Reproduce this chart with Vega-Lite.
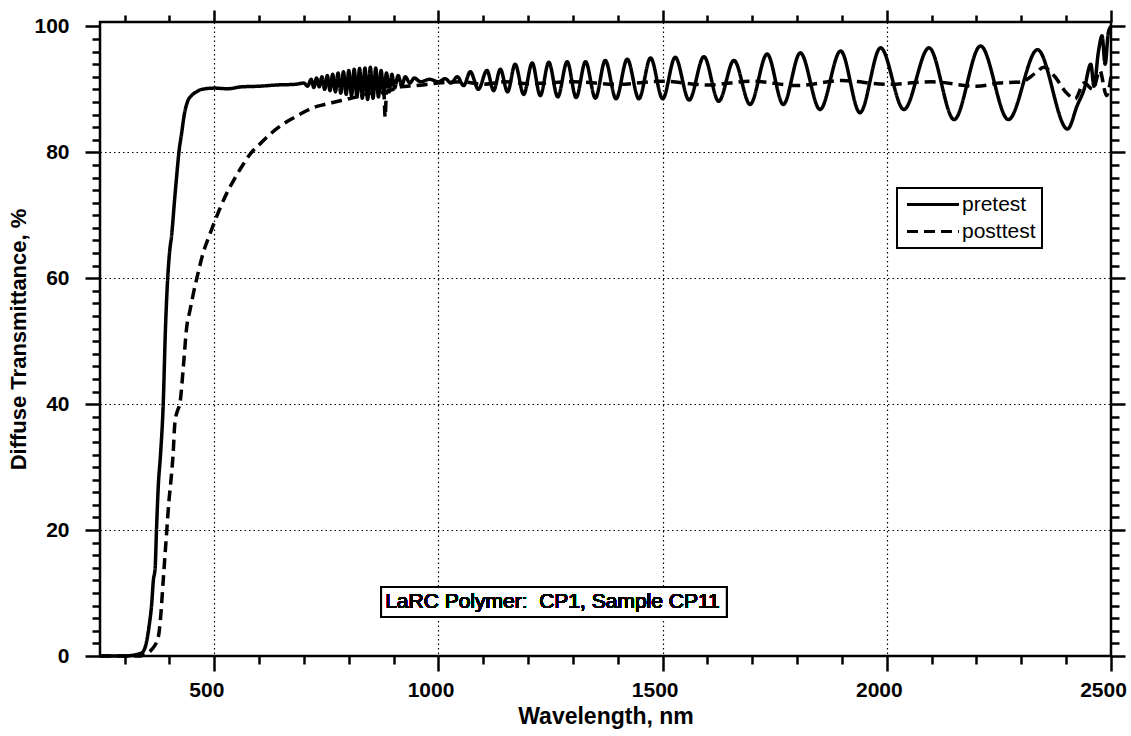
{
  "$schema": "https://vega.github.io/schema/vega-lite/v6.json",
  "width": 1011,
  "height": 634,
  "padding": {"left": 7, "top": 8, "right": 5, "bottom": 5},
  "background": "white",
  "config": {
    "view": {"stroke": "black", "strokeWidth": 2.5},
    "font": "Liberation Sans",
    "axis": {
      "labelFont": "Liberation Sans",
      "labelFontWeight": "bold",
      "labelFontSize": 21,
      "labelColor": "black",
      "titleFont": "Liberation Sans",
      "titleFontWeight": "bold",
      "titleFontSize": 22,
      "titleColor": "black",
      "tickColor": "black",
      "tickWidth": 2.5,
      "domain": false,
      "gridColor": "black",
      "gridDash": [1.5, 3],
      "gridWidth": 1.2,
      "labelOverlap": false,
      "labelFlush": false
    }
  },
  "data": {
    "values": [
      {"wavelength": 245, "transmittance": 0, "series": "pretest"},
      {"wavelength": 300, "transmittance": 0, "series": "pretest"},
      {"wavelength": 330, "transmittance": 0.3, "series": "pretest"},
      {"wavelength": 340, "transmittance": 0.6, "series": "pretest"},
      {"wavelength": 348, "transmittance": 2, "series": "pretest"},
      {"wavelength": 355, "transmittance": 5, "series": "pretest"},
      {"wavelength": 360, "transmittance": 8, "series": "pretest"},
      {"wavelength": 364, "transmittance": 12, "series": "pretest"},
      {"wavelength": 368, "transmittance": 14, "series": "pretest"},
      {"wavelength": 371, "transmittance": 20, "series": "pretest"},
      {"wavelength": 375, "transmittance": 27, "series": "pretest"},
      {"wavelength": 380, "transmittance": 32, "series": "pretest"},
      {"wavelength": 386, "transmittance": 40, "series": "pretest"},
      {"wavelength": 391, "transmittance": 52, "series": "pretest"},
      {"wavelength": 396, "transmittance": 60, "series": "pretest"},
      {"wavelength": 400, "transmittance": 64, "series": "pretest"},
      {"wavelength": 405, "transmittance": 67, "series": "pretest"},
      {"wavelength": 412, "transmittance": 73, "series": "pretest"},
      {"wavelength": 417, "transmittance": 77, "series": "pretest"},
      {"wavelength": 421, "transmittance": 80, "series": "pretest"},
      {"wavelength": 427, "transmittance": 83, "series": "pretest"},
      {"wavelength": 433, "transmittance": 86, "series": "pretest"},
      {"wavelength": 440, "transmittance": 88, "series": "pretest"},
      {"wavelength": 449, "transmittance": 89, "series": "pretest"},
      {"wavelength": 460, "transmittance": 89.6, "series": "pretest"},
      {"wavelength": 472, "transmittance": 90, "series": "pretest"},
      {"wavelength": 500, "transmittance": 90.2, "series": "pretest"},
      {"wavelength": 530, "transmittance": 90.1, "series": "pretest"},
      {"wavelength": 560, "transmittance": 90.4, "series": "pretest"},
      {"wavelength": 600, "transmittance": 90.5, "series": "pretest"},
      {"wavelength": 640, "transmittance": 90.7, "series": "pretest"},
      {"wavelength": 680, "transmittance": 90.8, "series": "pretest"},
      {"wavelength": 700, "transmittance": 91, "series": "pretest"},
      {"wavelength": 708, "transmittance": 90.5, "series": "pretest"},
      {"wavelength": 716, "transmittance": 91.6, "series": "pretest"},
      {"wavelength": 722, "transmittance": 90.3, "series": "pretest"},
      {"wavelength": 728, "transmittance": 91.8, "series": "pretest"},
      {"wavelength": 734, "transmittance": 90.4, "series": "pretest"},
      {"wavelength": 740, "transmittance": 92, "series": "pretest"},
      {"wavelength": 746, "transmittance": 90, "series": "pretest"},
      {"wavelength": 752, "transmittance": 92.2, "series": "pretest"},
      {"wavelength": 758, "transmittance": 89.8, "series": "pretest"},
      {"wavelength": 764, "transmittance": 92.4, "series": "pretest"},
      {"wavelength": 770, "transmittance": 89.6, "series": "pretest"},
      {"wavelength": 776, "transmittance": 92.6, "series": "pretest"},
      {"wavelength": 782, "transmittance": 89.4, "series": "pretest"},
      {"wavelength": 788, "transmittance": 92.8, "series": "pretest"},
      {"wavelength": 794, "transmittance": 89.2, "series": "pretest"},
      {"wavelength": 800, "transmittance": 93, "series": "pretest"},
      {"wavelength": 806, "transmittance": 89, "series": "pretest"},
      {"wavelength": 812, "transmittance": 93.2, "series": "pretest"},
      {"wavelength": 818, "transmittance": 88.8, "series": "pretest"},
      {"wavelength": 824, "transmittance": 93.3, "series": "pretest"},
      {"wavelength": 830, "transmittance": 88.6, "series": "pretest"},
      {"wavelength": 836, "transmittance": 93.4, "series": "pretest"},
      {"wavelength": 842, "transmittance": 88.4, "series": "pretest"},
      {"wavelength": 848, "transmittance": 93.5, "series": "pretest"},
      {"wavelength": 854, "transmittance": 88.6, "series": "pretest"},
      {"wavelength": 860, "transmittance": 93.4, "series": "pretest"},
      {"wavelength": 866, "transmittance": 88.8, "series": "pretest"},
      {"wavelength": 872, "transmittance": 93, "series": "pretest"},
      {"wavelength": 878, "transmittance": 89.2, "series": "pretest"},
      {"wavelength": 884, "transmittance": 92.6, "series": "pretest"},
      {"wavelength": 890, "transmittance": 89.6, "series": "pretest"},
      {"wavelength": 896, "transmittance": 92.4, "series": "pretest"},
      {"wavelength": 902, "transmittance": 90.2, "series": "pretest"},
      {"wavelength": 910, "transmittance": 92.2, "series": "pretest"},
      {"wavelength": 918, "transmittance": 90.6, "series": "pretest"},
      {"wavelength": 926, "transmittance": 92, "series": "pretest"},
      {"wavelength": 936, "transmittance": 91, "series": "pretest"},
      {"wavelength": 946, "transmittance": 91.8, "series": "pretest"},
      {"wavelength": 960, "transmittance": 91.2, "series": "pretest"},
      {"wavelength": 980, "transmittance": 91.6, "series": "pretest"},
      {"wavelength": 1000, "transmittance": 91.2, "series": "pretest"},
      {"wavelength": 1015, "transmittance": 91.7, "series": "pretest"},
      {"wavelength": 1028, "transmittance": 91, "series": "pretest"},
      {"wavelength": 1042, "transmittance": 92, "series": "pretest"},
      {"wavelength": 1056, "transmittance": 90.6, "series": "pretest"},
      {"wavelength": 1071, "transmittance": 92.8, "series": "pretest"},
      {"wavelength": 1089, "transmittance": 90, "series": "pretest"},
      {"wavelength": 1108, "transmittance": 93, "series": "pretest"},
      {"wavelength": 1123, "transmittance": 89.8, "series": "pretest"},
      {"wavelength": 1138, "transmittance": 93.2, "series": "pretest"},
      {"wavelength": 1154, "transmittance": 89.6, "series": "pretest"},
      {"wavelength": 1171, "transmittance": 94, "series": "pretest"},
      {"wavelength": 1190, "transmittance": 89.2, "series": "pretest"},
      {"wavelength": 1209, "transmittance": 94.2, "series": "pretest"},
      {"wavelength": 1227, "transmittance": 89, "series": "pretest"},
      {"wavelength": 1246, "transmittance": 94.3, "series": "pretest"},
      {"wavelength": 1266, "transmittance": 88.8, "series": "pretest"},
      {"wavelength": 1287, "transmittance": 94.4, "series": "pretest"},
      {"wavelength": 1307, "transmittance": 88.7, "series": "pretest"},
      {"wavelength": 1328, "transmittance": 94.4, "series": "pretest"},
      {"wavelength": 1350, "transmittance": 88.6, "series": "pretest"},
      {"wavelength": 1372, "transmittance": 94.6, "series": "pretest"},
      {"wavelength": 1396, "transmittance": 88.5, "series": "pretest"},
      {"wavelength": 1421, "transmittance": 94.8, "series": "pretest"},
      {"wavelength": 1447, "transmittance": 88.5, "series": "pretest"},
      {"wavelength": 1473, "transmittance": 95, "series": "pretest"},
      {"wavelength": 1500, "transmittance": 88.5, "series": "pretest"},
      {"wavelength": 1528, "transmittance": 95.1, "series": "pretest"},
      {"wavelength": 1559, "transmittance": 88.3, "series": "pretest"},
      {"wavelength": 1592, "transmittance": 95.2, "series": "pretest"},
      {"wavelength": 1625, "transmittance": 88.1, "series": "pretest"},
      {"wavelength": 1659, "transmittance": 94.6, "series": "pretest"},
      {"wavelength": 1695, "transmittance": 87.6, "series": "pretest"},
      {"wavelength": 1733, "transmittance": 95.6, "series": "pretest"},
      {"wavelength": 1769, "transmittance": 87.6, "series": "pretest"},
      {"wavelength": 1807, "transmittance": 95.8, "series": "pretest"},
      {"wavelength": 1851, "transmittance": 86.8, "series": "pretest"},
      {"wavelength": 1897, "transmittance": 96.1, "series": "pretest"},
      {"wavelength": 1940, "transmittance": 86.3, "series": "pretest"},
      {"wavelength": 1986, "transmittance": 96.6, "series": "pretest"},
      {"wavelength": 2038, "transmittance": 86.8, "series": "pretest"},
      {"wavelength": 2094, "transmittance": 96.6, "series": "pretest"},
      {"wavelength": 2150, "transmittance": 85.2, "series": "pretest"},
      {"wavelength": 2209, "transmittance": 96.9, "series": "pretest"},
      {"wavelength": 2271, "transmittance": 85.2, "series": "pretest"},
      {"wavelength": 2336, "transmittance": 96.3, "series": "pretest"},
      {"wavelength": 2403, "transmittance": 83.7, "series": "pretest"},
      {"wavelength": 2425, "transmittance": 87.5, "series": "pretest"},
      {"wavelength": 2440, "transmittance": 90, "series": "pretest"},
      {"wavelength": 2455, "transmittance": 94, "series": "pretest"},
      {"wavelength": 2462, "transmittance": 90.5, "series": "pretest"},
      {"wavelength": 2472, "transmittance": 96, "series": "pretest"},
      {"wavelength": 2480, "transmittance": 98.5, "series": "pretest"},
      {"wavelength": 2487, "transmittance": 94, "series": "pretest"},
      {"wavelength": 2494, "transmittance": 99, "series": "pretest"},
      {"wavelength": 2500, "transmittance": 100, "series": "pretest"},
      {"wavelength": 245, "transmittance": 0, "series": "posttest"},
      {"wavelength": 335, "transmittance": 0, "series": "posttest"},
      {"wavelength": 345, "transmittance": 0.3, "series": "posttest"},
      {"wavelength": 360, "transmittance": 1, "series": "posttest"},
      {"wavelength": 375, "transmittance": 3, "series": "posttest"},
      {"wavelength": 380, "transmittance": 6, "series": "posttest"},
      {"wavelength": 386, "transmittance": 12, "series": "posttest"},
      {"wavelength": 390, "transmittance": 16, "series": "posttest"},
      {"wavelength": 394, "transmittance": 20, "series": "posttest"},
      {"wavelength": 398, "transmittance": 24, "series": "posttest"},
      {"wavelength": 403, "transmittance": 27.7, "series": "posttest"},
      {"wavelength": 408, "transmittance": 32, "series": "posttest"},
      {"wavelength": 412, "transmittance": 37, "series": "posttest"},
      {"wavelength": 418, "transmittance": 39, "series": "posttest"},
      {"wavelength": 423, "transmittance": 40, "series": "posttest"},
      {"wavelength": 431, "transmittance": 46, "series": "posttest"},
      {"wavelength": 438, "transmittance": 52, "series": "posttest"},
      {"wavelength": 446, "transmittance": 55, "series": "posttest"},
      {"wavelength": 453, "transmittance": 57.5, "series": "posttest"},
      {"wavelength": 461, "transmittance": 60, "series": "posttest"},
      {"wavelength": 475, "transmittance": 64, "series": "posttest"},
      {"wavelength": 490, "transmittance": 67, "series": "posttest"},
      {"wavelength": 498, "transmittance": 68.5, "series": "posttest"},
      {"wavelength": 512, "transmittance": 71, "series": "posttest"},
      {"wavelength": 527, "transmittance": 73.4, "series": "posttest"},
      {"wavelength": 545, "transmittance": 75.8, "series": "posttest"},
      {"wavelength": 561, "transmittance": 77.7, "series": "posttest"},
      {"wavelength": 583, "transmittance": 80, "series": "posttest"},
      {"wavelength": 600, "transmittance": 81.2, "series": "posttest"},
      {"wavelength": 620, "transmittance": 82.6, "series": "posttest"},
      {"wavelength": 640, "transmittance": 83.8, "series": "posttest"},
      {"wavelength": 665, "transmittance": 85, "series": "posttest"},
      {"wavelength": 690, "transmittance": 86, "series": "posttest"},
      {"wavelength": 717, "transmittance": 87, "series": "posttest"},
      {"wavelength": 740, "transmittance": 87.5, "series": "posttest"},
      {"wavelength": 769, "transmittance": 88, "series": "posttest"},
      {"wavelength": 800, "transmittance": 88.5, "series": "posttest"},
      {"wavelength": 828, "transmittance": 89, "series": "posttest"},
      {"wavelength": 850, "transmittance": 89.4, "series": "posttest"},
      {"wavelength": 865, "transmittance": 89.2, "series": "posttest"},
      {"wavelength": 878, "transmittance": 89.6, "series": "posttest"},
      {"wavelength": 881, "transmittance": 85.6, "series": "posttest"},
      {"wavelength": 884, "transmittance": 89.6, "series": "posttest"},
      {"wavelength": 900, "transmittance": 90, "series": "posttest"},
      {"wavelength": 915, "transmittance": 90.4, "series": "posttest"},
      {"wavelength": 950, "transmittance": 90.6, "series": "posttest"},
      {"wavelength": 1000, "transmittance": 91, "series": "posttest"},
      {"wavelength": 1050, "transmittance": 91.2, "series": "posttest"},
      {"wavelength": 1100, "transmittance": 90.8, "series": "posttest"},
      {"wavelength": 1150, "transmittance": 91.2, "series": "posttest"},
      {"wavelength": 1200, "transmittance": 90.9, "series": "posttest"},
      {"wavelength": 1300, "transmittance": 91.2, "series": "posttest"},
      {"wavelength": 1400, "transmittance": 90.8, "series": "posttest"},
      {"wavelength": 1500, "transmittance": 91.3, "series": "posttest"},
      {"wavelength": 1600, "transmittance": 90.7, "series": "posttest"},
      {"wavelength": 1700, "transmittance": 91.3, "series": "posttest"},
      {"wavelength": 1800, "transmittance": 90.6, "series": "posttest"},
      {"wavelength": 1900, "transmittance": 91.4, "series": "posttest"},
      {"wavelength": 2000, "transmittance": 90.8, "series": "posttest"},
      {"wavelength": 2100, "transmittance": 91.2, "series": "posttest"},
      {"wavelength": 2200, "transmittance": 90.5, "series": "posttest"},
      {"wavelength": 2250, "transmittance": 91, "series": "posttest"},
      {"wavelength": 2300, "transmittance": 91.2, "series": "posttest"},
      {"wavelength": 2330, "transmittance": 92.5, "series": "posttest"},
      {"wavelength": 2350, "transmittance": 93.5, "series": "posttest"},
      {"wavelength": 2375, "transmittance": 92, "series": "posttest"},
      {"wavelength": 2400, "transmittance": 89.5, "series": "posttest"},
      {"wavelength": 2420, "transmittance": 88.5, "series": "posttest"},
      {"wavelength": 2440, "transmittance": 91, "series": "posttest"},
      {"wavelength": 2460, "transmittance": 90, "series": "posttest"},
      {"wavelength": 2475, "transmittance": 93, "series": "posttest"},
      {"wavelength": 2490, "transmittance": 89, "series": "posttest"},
      {"wavelength": 2500, "transmittance": 92, "series": "posttest"}
    ]
  },
  "layer": [
    {
      "mark": {"type": "line", "color": "black", "strokeWidth": 3.5, "interpolate": "monotone"},
      "encoding": {
        "x": {
          "field": "wavelength", "type": "quantitative",
          "scale": {"domain": [245, 2500], "nice": false, "zero": false},
          "axis": {
            "orient": "bottom",
            "title": "Wavelength, nm",
            "titleFontSize": 23,
            "format": "d",
            "values": [300,400,500,600,700,800,900,1000,1100,1200,1300,1400,1500,1600,1700,1800,1900,2000,2100,2200,2300,2400,2500],
            "labelExpr": "datum.value % 500 === 0 ? datum.label : ''",
            "tickSize": {"condition": {"test": "datum.value % 500 === 0", "value": 15}, "value": 8},
            "gridOpacity": {"condition": {"test": "datum.value % 500 === 0 && datum.value < 2500", "value": 1}, "value": 0},
            "labelPadding": 8,
            "labelOffset": -8,
            "titlePadding": 5
          }
        },
        "y": {
          "field": "transmittance", "type": "quantitative",
          "scale": {"domain": [0, 100.7], "nice": false, "zero": false},
          "axis": {
            "orient": "left",
            "title": "Diffuse Transmittance, %",
            "values": [0,2,4,6,8,10,12,14,16,18,20,22,24,26,28,30,32,34,36,38,40,42,44,46,48,50,52,54,56,58,60,62,64,66,68,70,72,74,76,78,80,82,84,86,88,90,92,94,96,98,100],
            "labelExpr": "datum.value % 20 === 0 ? datum.label : ''",
            "tickSize": {"condition": {"test": "datum.value % 20 === 0", "value": 15}, "value": 8},
            "gridOpacity": {"condition": {"test": "datum.value % 20 === 0 && datum.value > 0 && datum.value < 100", "value": 1}, "value": 0},
            "labelPadding": 16,
            "titlePadding": 3
          }
        },
        "detail": {"field": "series"},
        "strokeDash": {
          "field": "series", "type": "nominal",
          "scale": {"domain": ["pretest", "posttest"], "range": [[1, 0], [11, 6]]},
          "legend": {
            "title": null,
            "orient": "none",
            "legendX": 797,
            "legendY": 166,
            "symbolType": "M-0.75,0H5.25",
            "symbolSize": 300,
            "symbolStrokeWidth": 3,
            "symbolStrokeColor": "black",
            "labelFont": "Liberation Sans",
            "labelFontSize": 21,
            "labelColor": "black",
            "labelOffset": 38,
            "padding": 6,
            "rowPadding": 5,
            "strokeColor": "black",
            "fillColor": "white",
            "encode": {"legend": {"update": {"strokeWidth": {"value": 2}}}}
          }
        }
      }
    },
    {
      "mark": {"type": "rect", "fill": "white", "stroke": "black", "strokeWidth": 2},
      "encoding": {
        "x": {
          "datum": 872, "type": "quantitative",
          "axis": {
            "orient": "top",
            "title": null,
            "values": [300,400,500,600,700,800,900,1000,1100,1200,1300,1400,1500,1600,1700,1800,1900,2000,2100,2200,2300,2400,2500],
            "labels": false,
            "grid": false,
            "tickSize": {"condition": {"test": "datum.value % 500 === 0", "value": 12}, "value": 7}
          }
        },
        "x2": {"datum": 1643},
        "y": {
          "datum": 10.96, "type": "quantitative",
          "axis": {
            "orient": "right",
            "title": null,
            "values": [0,2,4,6,8,10,12,14,16,18,20,22,24,26,28,30,32,34,36,38,40,42,44,46,48,50,52,54,56,58,60,62,64,66,68,70,72,74,76,78,80,82,84,86,88,90,92,94,96,98,100],
            "labels": false,
            "grid": false,
            "tickSize": {"condition": {"test": "datum.value % 20 === 0", "value": 14}, "value": 8}
          }
        },
        "y2": {"datum": 6.2}
      }
    },
    {
      "mark": {"type": "text", "align": "left", "baseline": "middle", "font": "Liberation Sans", "fontSize": 21, "fontWeight": "normal", "color": "black"},
      "encoding": {
        "x": {"datum": 881, "type": "quantitative", "axis": null},
        "y": {"datum": 8.55, "type": "quantitative", "axis": null},
        "text": {"datum": "LaRC Polymer:\u00a0 CP1, Sample CP11"}
      }
    }
  ],
  "resolve": {"axis": {"x": "independent", "y": "independent"}}
}
